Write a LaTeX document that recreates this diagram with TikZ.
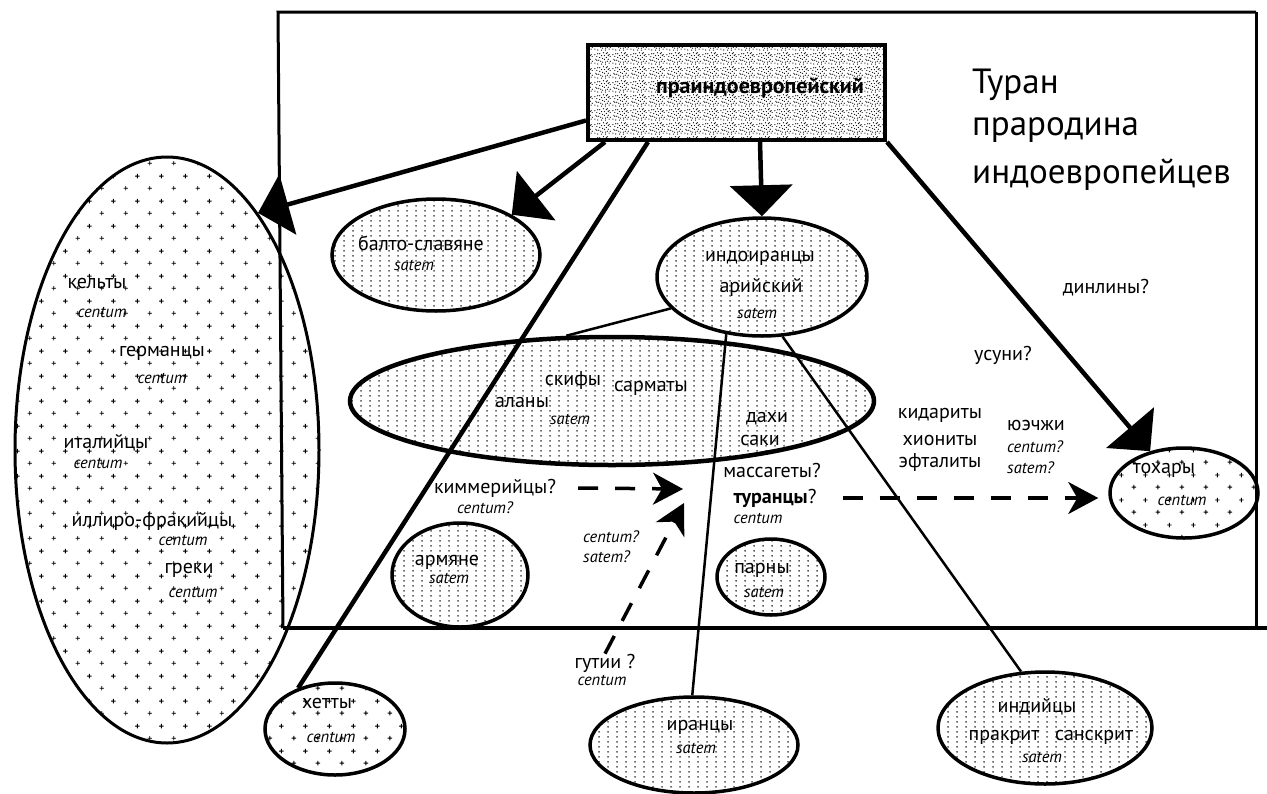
\documentclass[tikz,border=0pt]{standalone}
\usepackage{fontspec}
\setmainfont{PT Sans}
\usetikzlibrary{arrows.meta,shapes.geometric,patterns.meta}
\tikzdeclarepattern{name=dotgrid,bottom left={(0pt,0pt)},top right={(8.5pt,5pt)},tile size={(8.5pt,5pt)},code={\fill (4.25pt,2.5pt) circle (0.95pt);}}
\tikzdeclarepattern{name=plusgrid,bottom left={(0pt,0pt)},top right={(24pt,25pt)},tile size={(24pt,25pt)},code={\draw[line width=0.95pt] (3.7pt,6pt)--(8.3pt,6pt) (6pt,3.7pt)--(6pt,8.3pt) (15.7pt,18.5pt)--(20.3pt,18.5pt) (18pt,16.2pt)--(18pt,20.8pt);}}
\tikzdeclarepattern{name=sand,bottom left={(0pt,0pt)},top right={(18pt,14pt)},tile size={(18pt,14pt)},code={\foreach \x/\y in {1/2,3/9,5/5,6/12,8/1,9/7,11/10,12/3,14/13,15/6,17/9,2/6,7/4,13/8,16/2,10/13,4/12,16/11,1/11,4/1,6/8,9/3,11/6,13/12,15/10,17/4,3/5,8/10,12/1,14/4}{\fill (\x pt,\y pt) circle (0.65pt);}}}
\tikzset{
  grp/.style={ellipse,draw,line width=3.5pt,inner sep=0pt},
  dotgrp/.style={grp,pattern=dotgrid},
  plusgrp/.style={grp,pattern=plusgrid},
  lbl/.style={font=\fontsize{20}{22}\selectfont,inner sep=0pt},
  lat/.style={font=\fontsize{16.5}{18}\selectfont\itshape,inner sep=0pt},
  bigtxt/.style={font=\fontsize{35}{38}\selectfont,anchor=west,inner sep=0pt},
  link/.style={line width=2.5pt},
  stem/.style={line width=4.5pt},
  bigtip/.style={stem,-{Triangle[length=31pt,width=62pt]}},
  migr/.style={line width=3.5pt,dash pattern=on 20pt off 17pt,-{Stealth[length=30pt,width=32pt,inset=9pt]}}
}
\begin{document}
\begin{tikzpicture}[x=1pt,y=-1pt]
\useasboundingbox (0,0) rectangle (1267,793);
% frame of Turan
\draw[line width=3pt](1256,12)--(278,12)--(283,628);\draw[line width=4pt](283,628)--(1267,628);\draw[line width=3pt](1256,12)--(1256,628);
\node[draw,line width=4pt,pattern=sand,minimum width=297pt,minimum height=95pt,inner sep=0pt](proto)at(736.5,92.5){};
\node[font=\bfseries\fontsize{22}{24}\selectfont,inner sep=0pt](protolbl)at(760,88){праиндоевропейский};
\node[bigtxt](turan1)at(972,85){Туран};\node[bigtxt](turan2)at(972,130){прародина};\node[bigtxt](turan3)at(972,175){индоевропейцев};
% groups
\node[plusgrp,line width=3pt,minimum width=304pt,minimum height=586pt](west)at(167,450){};
\node[dotgrp,minimum width=208pt,minimum height=112pt](balto)at(436,255){};
\node[dotgrp,minimum width=210pt,minimum height=118pt](indo)at(762,277){};
\node[dotgrp,line width=4.5pt,minimum width=524pt,minimum height=128pt](scyth)at(612,401){};
\node[dotgrp,minimum width=136pt,minimum height=104pt](armen)at(460,575){};
\node[dotgrp,minimum width=108pt,minimum height=76pt](parny)at(771,577){};
\node[plusgrp,minimum width=140pt,minimum height=92pt](hetty)at(335,729){};
\node[dotgrp,minimum width=208pt,minimum height=96pt](iran)at(694,745){};
\node[dotgrp,minimum width=214pt,minimum height=112pt](india)at(1045,728){};
\node[plusgrp,minimum width=148pt,minimum height=90pt](tohar)at(1184,493){};
% branches
\draw[bigtip]([yshift=-28pt]proto.west)--(west.69);
\draw[bigtip]([xshift=19pt]proto.south west)--(balto.28);
\draw[stem]([xshift=62pt]proto.south west)--(hetty.132);
\draw[bigtip]([xshift=174pt]proto.south west)--(indo.north);
\draw[bigtip](proto.south east)--(tohar.129);
\draw[link](indo.199)--(scyth.125);\draw[link](indo.238)--(iran.92);\draw[link](indo.289)--(india.113);
% labels
\node[lbl](kelty)at(97,283){кельты};\node[lat](kelc)at(102,312){centum};
\node[lbl](germ)at(162,353){германцы};\node[lat](germc)at(162,378){centum};
\node[lbl](ital)at(106,443){италийцы};\node[lat](italc)at(98,463){centum};
\node[lbl](illyr)at(152,521){иллиро-фракийцы};\node[lat](illyrc)at(183,540){centum};
\node[lbl](greki)at(189,570){греки};\node[lat](grekic)at(193,592){centum};
\node[lbl](baltolbl)at(421,243){балто-славяне};\node[lat](baltos)at(414,265){satem};
\node[lbl](indolbl)at(760,258){индоиранцы};\node[lbl](ariy)at(761,287){арийский};\node[lat](indos)at(757,313){satem};
\node[lbl](skify)at(573,380){скифы};\node[lbl](sarm)at(651,388){сарматы};\node[lbl](alany)at(522,402){аланы};\node[lat](scyths)at(570,419){satem};
\node[lbl](dahi)at(767,419){дахи};\node[lbl](saki)at(760,440){саки};
\node[lbl](massag)at(772,470){массагеты?};\node[lbl](turan)at(775,498){\bfseries туранцы\mdseries?};\node[lat](turanc)at(758,518){centum};
\node[lbl](kimm)at(495,488){киммерийцы?};\node[lat](kimmc)at(485,508){centum?};
\node[lat,anchor=west](midc)at(583,537){centum?};\node[lat,anchor=west](mids)at(583,557){satem?};
\node[lbl](armlbl)at(447,562){армяне};\node[lat](arms)at(449,578){satem};
\node[lbl](parnylbl)at(762,570){парны};\node[lat](parnys)at(764,592){satem};
\node[lbl](hettylbl)at(327,703){хетты};\node[lat](hettyc)at(331,737){centum};
\node[lbl](guti)at(605,663){гутии ?};\node[lat](gutic)at(602,680){centum};
\node[lbl](iranlbl)at(700,727){иранцы};\node[lat](irans)at(696,748){satem};
\node[lbl](indialbl)at(1037,707){индийцы};\node[lbl](prakr)at(1004,737){пракрит};\node[lbl](sansk)at(1094,737){санскрит};\node[lat](indias)at(1042,757){satem};
\node[lbl](toharlbl)at(1164,470){тохары};\node[lat](toharc)at(1182,500){centum};
\node[lbl](dinl)at(1106,288){динлины?};\node[lbl](usuni)at(1003,355){усуни?};
\node[lbl](kidar)at(940,415){кидариты};\node[lbl](hion)at(940,440){хиониты};\node[lbl](eftal)at(940,462){эфталиты};
\node[lbl,anchor=west](yuezhi)at(1007,425){юэчжи};\node[lat,anchor=west](yuec)at(1007,447){centum?};\node[lat,anchor=west](yues)at(1007,468){satem?};
% migrations
\coordinate(meet)at(683,489);\coordinate(meet2)at(684,503);\coordinate(toharin)at([xshift=-10pt]tohar.west);
\draw[migr]([xshift=22pt]kimm.east)--(meet);
\draw[migr](guti.north)--(meet2);
\draw[migr]([xshift=26pt]turan.east)--(turan.east-|toharin);
\end{tikzpicture}
\end{document}
